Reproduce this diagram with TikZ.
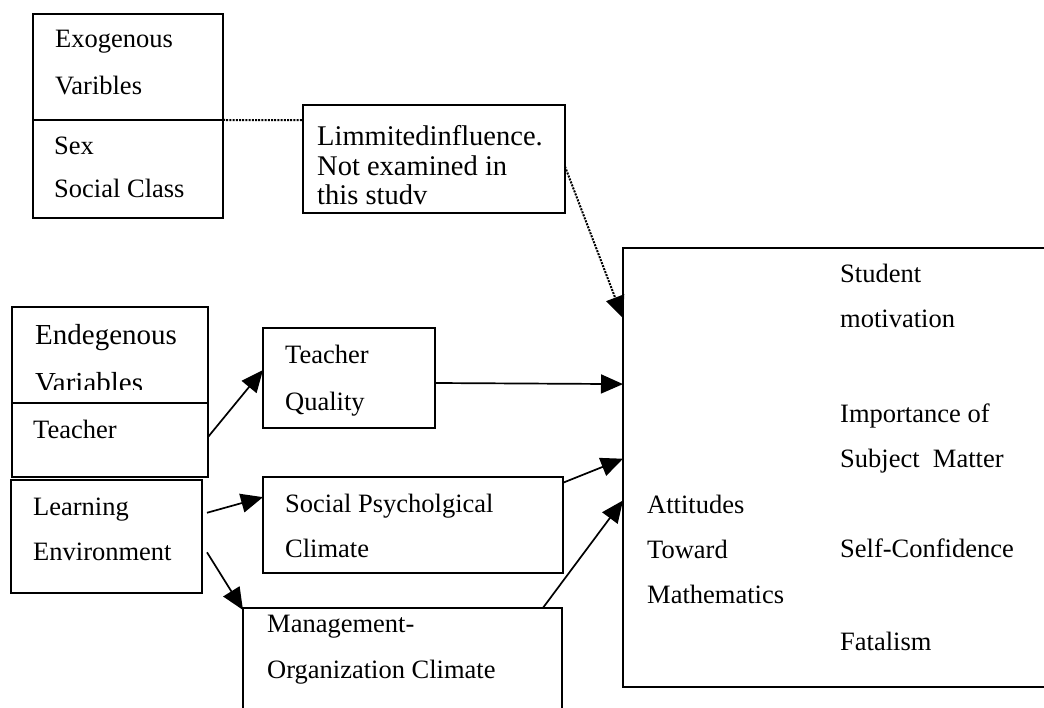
\documentclass[tikz,border=0pt]{standalone}
\usepackage{fontspec}
\setmainfont{Liberation Serif}
\usetikzlibrary{arrows.meta,calc}
\begin{document}
\begin{tikzpicture}[x=1pt,y=-1pt,
  box/.style={draw, line width=1.7pt, rectangle, anchor=north west, inner sep=0pt, outer sep=0pt},
  lbl/.style={anchor=base west, inner sep=0pt, font=\fontsize{26.5}{30}\selectfont},
  biglbl/.style={lbl, font=\fontsize{29}{32}\selectfont},
  limlbl/.style={lbl, font=\fontsize{28.5}{30}\selectfont},
  arr/.style={line width=1.7pt, -{Triangle[length=22pt,width=19pt]}},
  dotline/.style={line width=2pt, dash pattern=on 2pt off 1.2pt},
  dotarr/.style={dotline, -{Triangle[length=22pt,width=19pt]}}
]
\useasboundingbox (0,0) rectangle (1044,708);
\fill[white] (0,0) rectangle (1044,708);
\clip (0,0) rectangle (1044,708);

% exogenous variables
\node[box, minimum width=190pt, minimum height=106pt] (exoA) at (33,14) {};
\node[box, minimum width=190pt, minimum height=98pt] (exoB) at (33,120) {};
\node[lbl] (tExo1) at (55,48) {Exogenous};
\node[lbl] (tExo2) at (55,95) {Varibles};
\node[lbl] (tSex) at (54,155) {Sex};
\node[lbl] (tSoc) at (54,198) {Social Class};

% limited influence note
\node[box, minimum width=262pt, minimum height=108pt] (lim) at (303,105) {};
\node[limlbl] (tLim1) at (317,146) {Limmitedinfluence.};
\node[limlbl] (tLim2) at (317,176) {Not examined in};
\node[limlbl] (tLim3) at (317,205) {this studv};

% endogenous variables
\node[box, minimum width=196pt, minimum height=96pt] (endo) at (12,307) {};
\node[biglbl] (tEndo1) at (35,345) {Endegenous};
\begin{scope}
  \clip (12,307) rectangle (208,390);
  \node[biglbl] (tEndo2) at (35,392) {Variables};
\end{scope}
\node[box, minimum width=196pt, minimum height=74pt] (teach) at (12,403) {};
\node[lbl] (tTeach) at (33,438) {Teacher};
\node[box, minimum width=191pt, minimum height=113pt] (learn) at (11,480) {};
\node[lbl] (tLearn1) at (33,515) {Learning};
\node[lbl] (tLearn2) at (33,560) {Environment};

% climate boxes
\node[box, minimum width=172pt, minimum height=100pt] (tq) at (263,328) {};
\node[lbl] (tTq1) at (285,363) {Teacher};
\node[lbl] (tTq2) at (285,410) {Quality};
\node[box, minimum width=300pt, minimum height=96pt] (sp) at (263,477) {};
\node[lbl] (tSp1) at (285,512) {Social Psycholgical};
\node[lbl] (tSp2) at (285,557) {Climate};
\node[box, minimum width=319pt, minimum height=122pt] (mg) at (243,608) {};
\node[lbl] (tMg1) at (267,632) {Management-};
\node[lbl] (tMg2) at (267,678) {Organization Climate};

% attitudes toward mathematics
\node[box, minimum width=447pt, minimum height=439pt] (att) at (623,248) {};
\node[lbl] (tA1) at (840,283) {Student};
\node[lbl] (tA2) at (840,328) {motivation};
\node[lbl] (tA3) at (840,422) {Importance of};
\node[lbl] (tA4) at (840,467) {Subject~ Matter};
\node[lbl] (tA5) at (840,557) {Self-Confidence};
\node[lbl] (tA6) at (840,650) {Fatalism};
\node[lbl] (tB1) at (647,513) {Attitudes};
\node[lbl] (tB2) at (647,558) {Toward};
\node[lbl] (tB3) at (647,603) {Mathematics};

% connectors
\draw[dotline] (exoA.south east) -- ($(lim.north west)!0.14!(lim.south west)$);
\draw[dotarr] ($(lim.north east)!0.57!(lim.south east)$) -- ($(att.north west)!0.16!(att.south west)$);
\draw[arr] ($(teach.north east)!0.46!(teach.south east)$) -- ($(tq.north west)!0.42!(tq.south west)$);
\draw[arr] ([xshift=5pt]$(learn.north east)!0.29!(learn.south east)$) -- ($(sp.north west)!0.21!(sp.south west)$);
\draw[arr] ([xshift=5pt]$(learn.north east)!0.64!(learn.south east)$) -- ([yshift=-2pt]mg.north west);
\draw[arr] ($(tq.north east)!0.55!(tq.south east)$) -- ($(att.north west)!0.31!(att.south west)$);
\draw[arr] ($(sp.north east)!0.06!(sp.south east)$) -- ($(att.north west)!0.48!(att.south west)$);
\draw[arr] ($(mg.north west)!0.94!(mg.north east)$) -- ($(att.north west)!0.575!(att.south west)$);
\end{tikzpicture}
\end{document}
